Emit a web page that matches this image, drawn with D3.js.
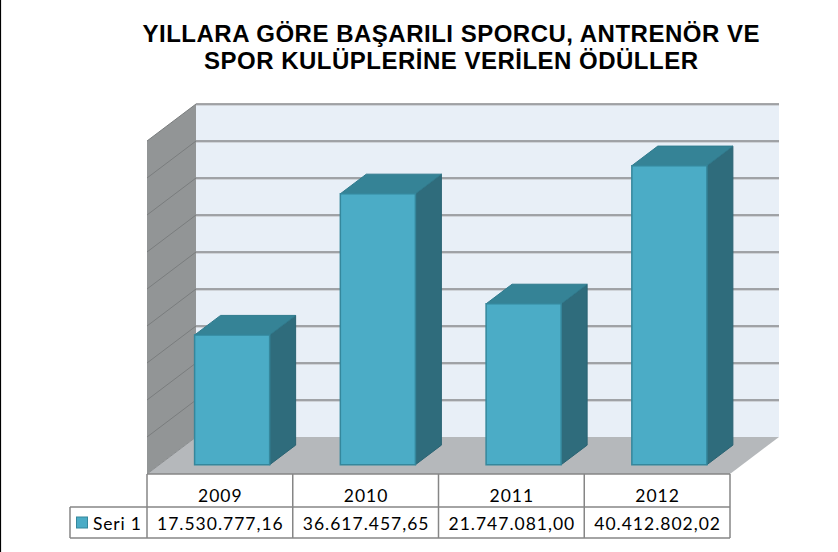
<!DOCTYPE html>
<html><head><meta charset="utf-8">
<script src="https://cdn.jsdelivr.net/npm/d3@7"></script>
<style>html,body{margin:0;padding:0;background:#fff;}svg{display:block;}</style>
</head><body>
<script>
const categories = ["2009", "2010", "2011", "2012"];
const values = [17530777.16, 36617457.65, 21747081.00, 40412802.02];
const valueLabels = ["17.530.777,16", "36.617.457,65", "21.747.081,00", "40.412.802,02"];
const seriesName = "Seri 1";
const gridTicks = [0, 5e6, 10e6, 15e6, 20e6, 25e6, 30e6, 35e6, 40e6, 45e6];
const titleLines = ["YILLARA GÖRE BAŞARILI SPORCU, ANTRENÖR VE", "SPOR KULÜPLERİNE VERİLEN ÖDÜLLER"];

const W = 838, H = 552;
const svg = d3.select("body").append("svg").attr("width", W).attr("height", H);
svg.append("rect").attr("width", W).attr("height", H).attr("fill", "#fff");
svg.append("line").attr("x1", 0.5).attr("x2", 0.5).attr("y1", 0).attr("y2", H).attr("stroke", "#000").attr("stroke-width", 1.2);

const plotLeft = 147, plotRight = 730, plotBase = 474, plotTop = 141;
const DX = 49, DY = -37;
const y = d3.scaleLinear().domain([0, 45e6]).range([plotBase, plotTop]);
const x = d3.scaleBand().domain(categories).range([plotLeft, plotRight]).padding(0);
const P = (px, v, d) => [px + d * DX, y(v) + d * DY];
const poly = pts => "M" + pts.map(p => p.join(",")).join("L") + "Z";

// left wall
svg.append("path").attr("d", poly([P(plotLeft, 0, 0), P(plotLeft, 45e6, 0), P(plotLeft, 45e6, 1), P(plotLeft, 0, 1)]))
  .attr("fill", "#929596");
// back wall
svg.append("path").attr("d", poly([P(plotLeft, 0, 1), P(plotLeft, 45e6, 1), P(plotRight, 45e6, 1), P(plotRight, 0, 1)]))
  .attr("fill", "#e8eff7");
// floor
svg.append("path").attr("d", poly([P(plotLeft, 0, 0), P(plotLeft, 0, 1), P(plotRight, 0, 1), P(plotRight, 0, 0)]))
  .attr("fill", "#b5b8bb");

// gridlines
const g = svg.append("g");
gridTicks.forEach(t => {
  if (t === 0) return;
  const a = P(plotLeft, t, 1), b = P(plotRight, t, 1), c = P(plotLeft, t, 0);
  g.append("line").attr("x1", a[0]).attr("y1", a[1] + 1.3).attr("x2", b[0]).attr("y2", b[1] + 1.3)
    .attr("stroke", "#c8ccd0").attr("stroke-width", 1);
  g.append("line").attr("x1", a[0]).attr("y1", a[1]).attr("x2", b[0]).attr("y2", b[1])
    .attr("stroke", "#888a8c").attr("stroke-width", 1.6);
  g.append("line").attr("x1", c[0]).attr("y1", c[1]).attr("x2", a[0]).attr("y2", a[1])
    .attr("stroke", "#7a7d7e").attr("stroke-width", 1);
});
svg.append("line").attr("x1", P(plotLeft,0,0)[0]).attr("y1", P(plotLeft,0,0)[1]).attr("x2", P(plotLeft,0,1)[0]).attr("y2", P(plotLeft,0,1)[1])
  .attr("stroke", "#8a8d8f").attr("stroke-width", 1);

// bars
const d0 = 0.25, d1 = 0.78, bwFrac = 0.515;
const bars = svg.append("g");
categories.forEach((c, i) => {
  const bw = x.bandwidth() * bwFrac;
  const x0 = x(c) + (x.bandwidth() - bw) / 2, x1 = x0 + bw;
  const v = values[i];
  const front = [P(x0, 0, d0), P(x0, v, d0), P(x1, v, d0), P(x1, 0, d0)];
  const side = [P(x1, 0, d0), P(x1, v, d0), P(x1, v, d1), P(x1, 0, d1)];
  const topF = [P(x0, v, d0), P(x0, v, d1), P(x1, v, d1), P(x1, v, d0)];
  bars.append("path").attr("d", poly(side)).attr("fill", "#2f6c7c").attr("stroke", "#2a6373").attr("stroke-width", 1);
  bars.append("path").attr("d", poly(topF)).attr("fill", "#358396").attr("stroke", "#2f7a8d").attr("stroke-width", 1);
  bars.append("path").attr("d", poly(front)).attr("fill", "#4bacc6").attr("stroke", "#35879c").attr("stroke-width", 1.5);
});

// title
const titleLens = [617, 494];
const title = svg.append("g").attr("font-family", "'Liberation Sans', Arial, sans-serif")
  .attr("font-weight", "bold").attr("font-size", 24).attr("fill", "#000").attr("text-anchor", "middle");
titleLines.forEach((t, i) => {
  title.append("text").attr("x", 451).attr("y", 41.5 + i * 27)
    .attr("textLength", titleLens[i]).attr("lengthAdjust", "spacing").text(t);
});

// data table
const rowTop = plotBase, rowMid = 507, rowBot = 538, legLeft = 70;
const tg = svg.append("g").attr("stroke", "#868686").attr("stroke-width", 1.5);
tg.append("line").attr("x1", plotLeft).attr("x2", plotRight).attr("y1", rowTop).attr("y2", rowTop);
tg.append("line").attr("x1", legLeft).attr("x2", plotRight).attr("y1", rowMid).attr("y2", rowMid);
tg.append("line").attr("x1", legLeft).attr("x2", plotRight).attr("y1", rowBot).attr("y2", rowBot);
tg.append("line").attr("x1", legLeft).attr("x2", legLeft).attr("y1", rowMid).attr("y2", rowBot);
[...categories.map(c => x(c)), plotRight].forEach(px => {
  tg.append("line").attr("x1", px).attr("x2", px).attr("y1", rowTop).attr("y2", rowBot);
});
const txt = svg.append("g").attr("font-family", "Lato, 'Open Sans', sans-serif").attr("font-size", 17.5)
  .attr("letter-spacing", 1).attr("fill", "#000").attr("text-anchor", "middle");
categories.forEach((c, i) => {
  const cx = x(c) + x.bandwidth() / 2 + 0.5;
  txt.append("text").attr("x", cx).attr("y", 501.5).text(c);
  txt.append("text").attr("x", cx).attr("y", 529.5).text(valueLabels[i]);
});
svg.append("rect").attr("x", 76.5).attr("y", 517).attr("width", 11).attr("height", 11)
  .attr("fill", "#4bacc6").attr("stroke", "#35879c").attr("stroke-width", 1);
svg.append("text").attr("x", 93).attr("y", 529.5).attr("font-family", "Lato, 'Open Sans', sans-serif")
  .attr("font-size", 17.5).attr("letter-spacing", 0.8).attr("fill", "#000").text(seriesName);
</script>
</body></html>
